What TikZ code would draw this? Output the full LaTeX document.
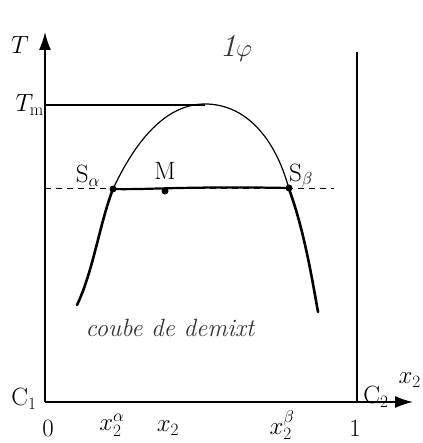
\documentclass[tikz,border=0pt]{standalone}
\usepackage{fontspec}
\usetikzlibrary{arrows.meta}
\tikzset{
  lbl/.style={font=\fontsize{25}{28}\selectfont, inner sep=1pt},
  hand/.style={font=\fontsize{25}{27}\selectfont\itshape, text=black!80},
}
\begin{document}
\begin{tikzpicture}[x=10pt, y=10pt]
            \useasboundingbox (-4.5,-4.1) rectangle (37.7,40.2);
            % Axes
            \draw[line width=1.6pt, -{Latex[length=18pt,width=12pt]}] (0,0) -- (0,37);
            \draw[line width=1.6pt, -{Latex[length=18pt,width=12pt]}] (0,0) -- (36.8,0);
            \draw[line width=1.3pt] (31.2,0) -- (31.2,35);
            \node[lbl] (T) at (-2.5,35.7) {$T$};
            \node[lbl, anchor=east, inner sep=0pt] (xaxis) at (37.6,2.2) {$x_2$};
            \node[lbl] (C1) at (-2.1,0.3) {$\mathrm{C}_1$};
            \node[lbl] (C2) at (33.1,0.5) {$\mathrm{C}_2$};

            % Melting temperature
            \draw[line width=1.2pt] (0,29.7) -- (16,29.7);
            \node[lbl, anchor=east] (Tm) at (0,29.7) {$T_{\mathrm{m}}$};

            % Dome
            \draw[line width=1.2pt] (6.8,21.3) .. controls (9,26) and (12,29.8) .. (16,29.8)
                                               .. controls (20,29.8) and (23,26.5) .. (24.4,21.3);
            \draw[line width=2.6pt, line cap=round] (6.8,21.3) .. controls (5.5,18) and (4.8,13) .. (3.2,9.7);
            \draw[line width=2.6pt, line cap=round] (24.4,21.3) .. controls (25.8,17.5) and (26.6,13) .. (27.3,9.0);

            % Tie line
            \draw[line width=1pt, dash pattern=on 6pt off 5pt] (0,21.3) -- (28.9,21.3);
            \coordinate (Sa) at (6.8,21.3);
            \coordinate (Sb) at (24.4,21.4);
            \coordinate (M) at (12,21.1);
            \draw[line width=2.2pt] (Sa) .. controls (10,21.2) and (14,21.6) .. (Sb);
            \fill (Sa) circle (3.5pt);
            \fill (Sb) circle (3.5pt);
            \fill (M) circle (3.5pt);
            \node[lbl] (Salpha) at (4.3,22.6) {$\mathrm{S}_\alpha$};
            \node[lbl] (Mlbl) at (12,23.1) {$\mathrm{M}$};
            \node[lbl] (Sbeta) at (25.6,22.6) {$\mathrm{S}_\beta$};

            % Ticks
            \node[lbl] (zero) at (0.3,-2.6) {$0$};
            \node[lbl, inner sep=0pt] (xa) at (6.7,-2.3) {$x_2^{\alpha}$};
            \node[lbl] (x2) at (12.3,-2.6) {$x_2$};
            \node[lbl, inner sep=0pt] (xb) at (23.7,-2.3) {$x_2^{\beta}$};
            \node[lbl] (one) at (31,-2.6) {$1$};

            % Handwritten notes
            \node[hand, font=\fontsize{32}{34}\selectfont\itshape] (phase) at (19.1,35.4) {1$\varphi$};
            \node[hand] (curve) at (12.5,7.4) {coube de demixt};
        \end{tikzpicture}
\end{document}
